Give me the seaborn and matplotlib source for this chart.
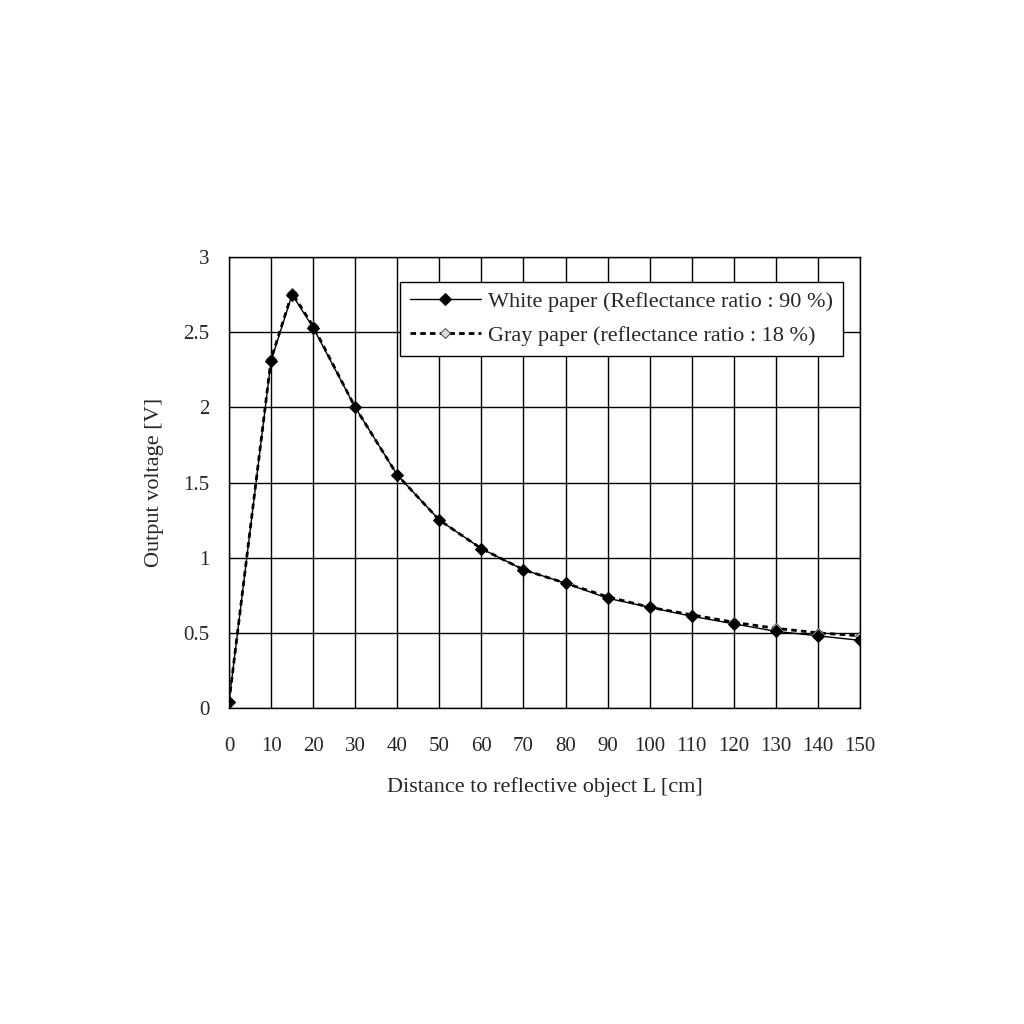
import matplotlib
matplotlib.use("Agg")
import matplotlib.pyplot as plt
import seaborn as sns
import pandas as pd

distance = [0, 10, 15, 20, 30, 40, 50, 60, 70, 80, 90, 100, 110, 120, 130, 140, 150]
white = [0.04, 2.31, 2.75, 2.53, 2.00, 1.55, 1.25, 1.06, 0.92, 0.83, 0.73, 0.67, 0.61, 0.56, 0.51, 0.48, 0.45]
gray = [0.04, 2.32, 2.76, 2.54, 2.00, 1.55, 1.25, 1.06, 0.92, 0.83, 0.74, 0.67, 0.62, 0.57, 0.53, 0.50, 0.48]
x_ticks = [0, 10, 20, 30, 40, 50, 60, 70, 80, 90, 100, 110, 120, 130, 140, 150]
y_ticks = [0, 0.5, 1, 1.5, 2, 2.5, 3]

sns.set_style("white")
plt.rcParams['font.family'] = ['Liberation Serif', 'DejaVu Serif']

df = pd.DataFrame({"L": distance, "white": white, "gray": gray})

fig = plt.figure(figsize=(10.24, 10.24), dpi=100)
ax = fig.add_axes([229/1024, 1 - 708/1024, 631/1024, 451/1024])

sns.lineplot(data=df, x="L", y="gray", ax=ax, color="black", linewidth=2.0, linestyle=(0, (2, 1.5)),
             marker="D", markersize=5, markerfacecolor="#dddddd", markeredgecolor="#555555",
             label="Gray paper (reflectance ratio : 18 %)", zorder=2)
sns.lineplot(data=df, x="L", y="white", ax=ax, color="black", linewidth=1.0,
             marker="D", markersize=6, markerfacecolor="black", markeredgecolor="black",
             label="White paper (Reflectance ratio : 90 %)", zorder=3)

ax.set_xlim(0, 150)
ax.set_ylim(0, 3)
ax.set_xticks(x_ticks)
ax.set_yticks(y_ticks)
ax.set_yticklabels(["0", "0.5", "1", "1.5", "2", "2.5", "3"])
ax.grid(True, color="black", linewidth=1.0)
for s in ax.spines.values():
    s.set_color("black")
    s.set_linewidth(1.0)
ax.tick_params(axis="x", labelsize=15, length=0, pad=21)
ax.tick_params(axis="y", labelsize=15, length=0, pad=14)
ax.set_xlabel("Distance to reflective object L [cm]", fontsize=16, labelpad=15)
ax.set_ylabel("Output voltage [V]", fontsize=16, labelpad=14)

handles, labels = ax.get_legend_handles_labels()
leg = ax.legend(handles[::-1], labels[::-1], loc="upper right", bbox_to_anchor=(0.99, 0.97),
                fontsize=16, frameon=True, fancybox=False, edgecolor="black",
                handlelength=3.2, handletextpad=0.3, borderpad=0.45, labelspacing=0.6)
leg.get_frame().set_linewidth(1.0)
leg.get_frame().set_alpha(1.0)

fig.savefig("out.png", dpi=100, facecolor="white")
